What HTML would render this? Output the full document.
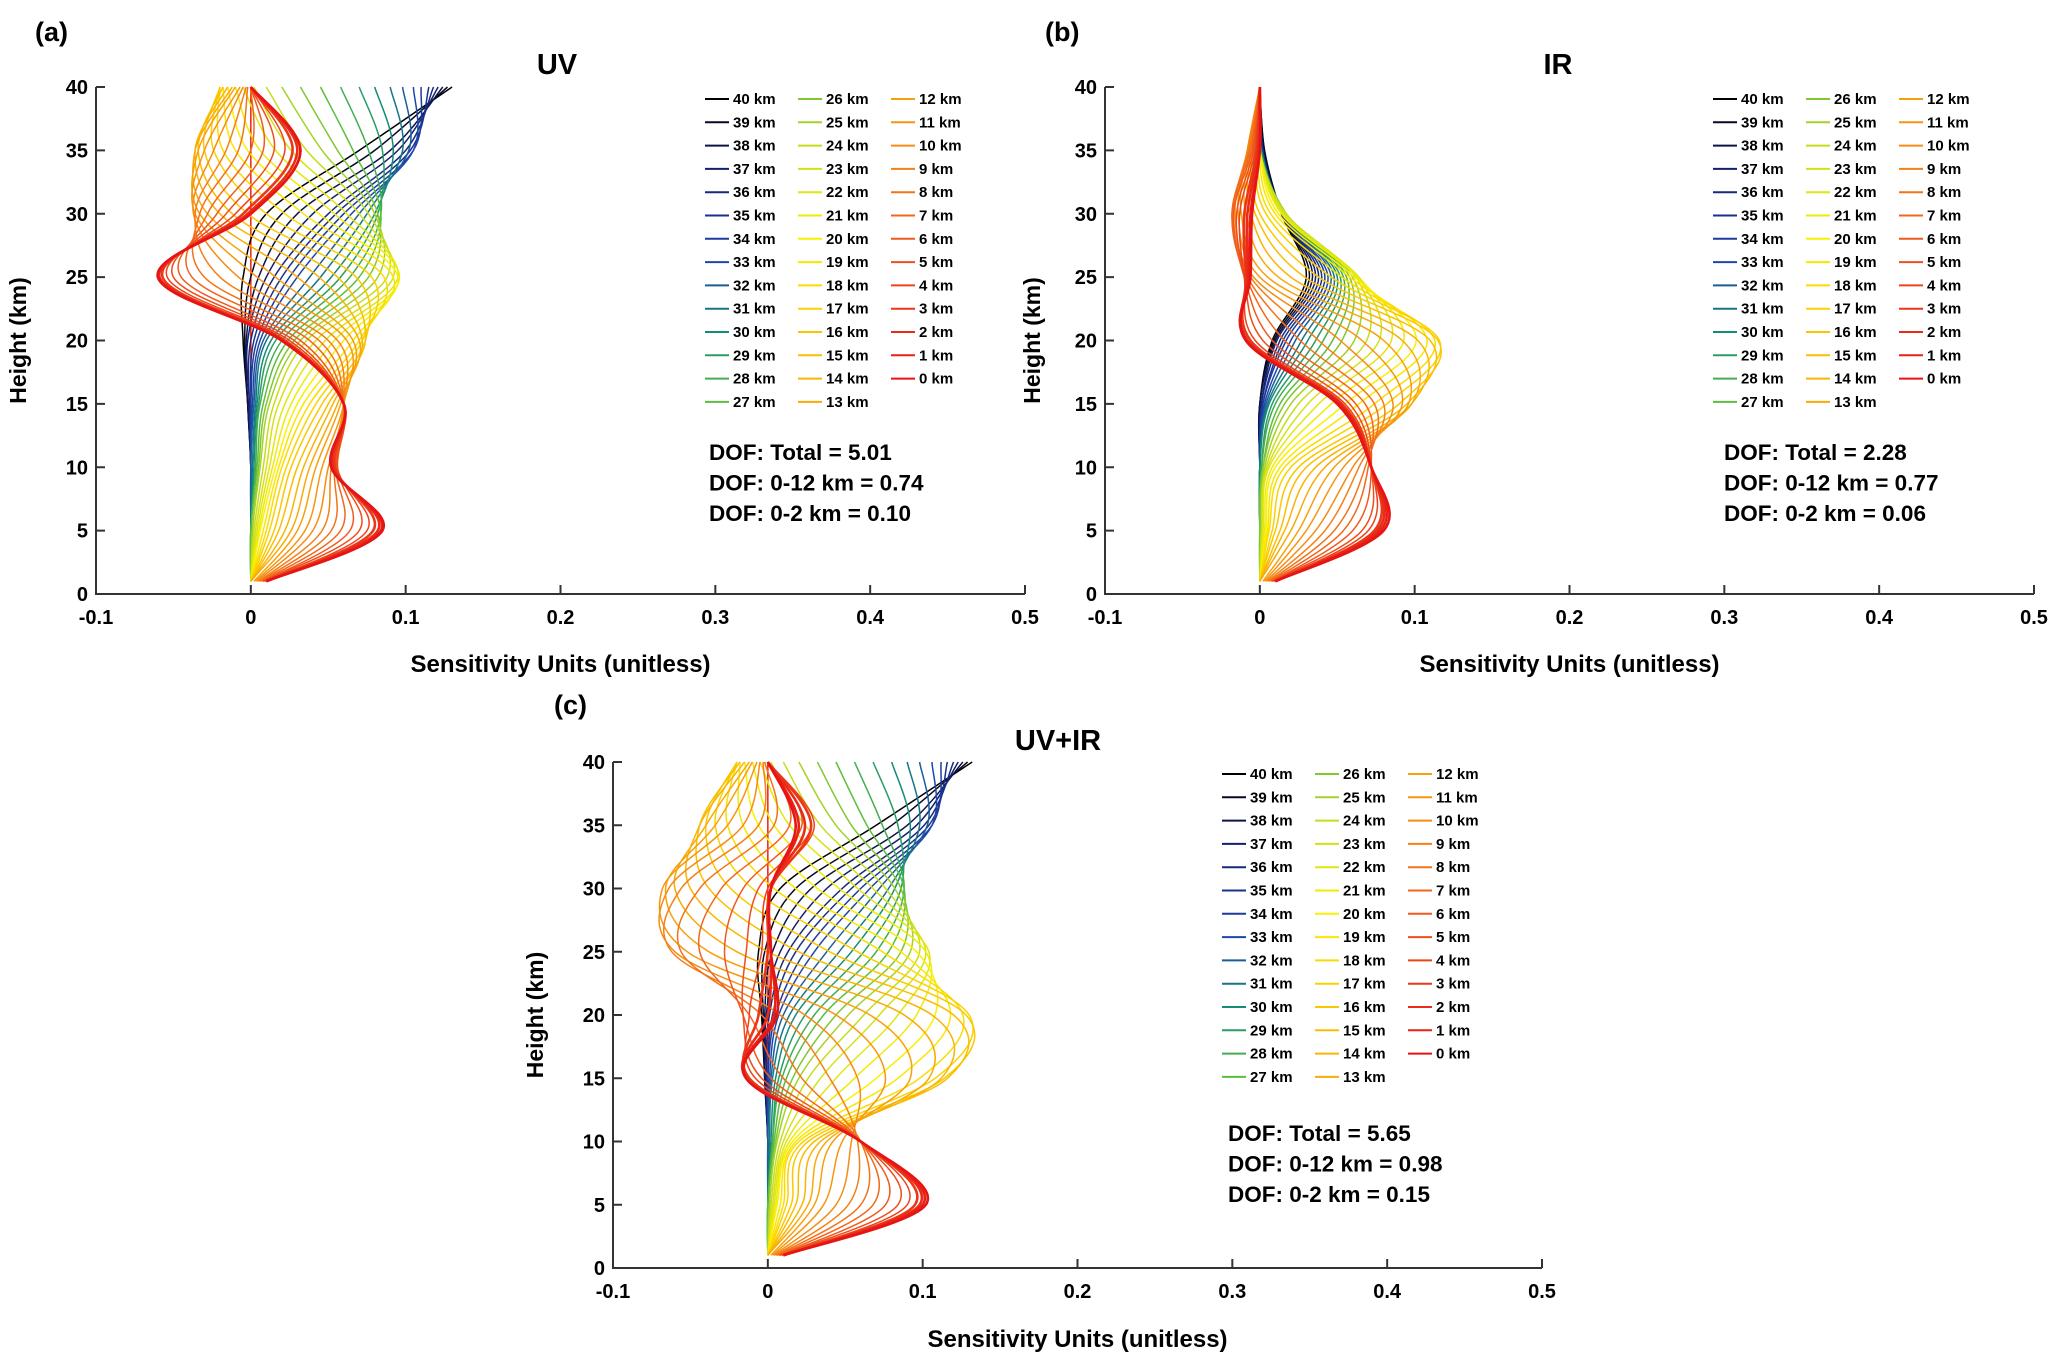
<!DOCTYPE html>
<html><head><meta charset="utf-8">
<style>
body{margin:0;background:#fff;}
svg{display:block;font-family:"Liberation Sans",Arial,sans-serif;font-weight:bold;}
</style></head>
<body>
<svg id="fig" width="2067" height="1372" viewBox="0 0 2067 1372" xmlns="http://www.w3.org/2000/svg"></svg>
<script>
// Shared data
const heights = [1,5,10,15,20,25,30,35,40];
const levels = [40,39,38,37,36,35,34,33,32,31,30,29,28,27,26,25,24,23,22,21,20,19,18,17,16,15,14,13,12,11,10,9,8,7,6,5,4,3,2,1,0];
const xTicks = [-0.1,0,0.1,0.2,0.3,0.4,0.5];
const xTickLabels = ["-0.1","0","0.1","0.2","0.3","0.4","0.5"];
const yTicks = [0,5,10,15,20,25,30,35,40];

// Panel (a) UV kernels (thousandths) per level, at heights above
const uvKernels = [
[0,0,0,-2,-5,-5,10,70,130],[0,0,0,-2,-4,0,20,80,127],[0,0,0,-2,-3,5,30,90,124],[0,0,0,-1,-2,10,40,95,121],
[0,0,0,-1,0,15,50,100,118],[0,0,0,0,2,20,55,103,115],[0,0,0,0,4,25,60,105,110],[0,0,0,1,6,30,65,105,105],
[0,0,0,2,8,38,70,102,98],[0,0,1,3,10,45,75,98,90],[0,0,2,4,13,52,80,92,80],[0,0,3,5,16,58,82,85,70],
[0,0,3,6,20,64,84,76,58],[0,0,4,8,24,70,84,66,45],[0,1,5,10,28,76,82,56,32],[0,1,6,12,32,82,80,46,20],
[0,2,8,15,36,88,76,36,10],[0,3,10,18,42,92,70,26,2],[0,4,12,22,48,95,62,16,-5],[0,5,14,26,54,96,54,6,-10],
[0,6,16,30,60,95,44,-2,-15],[0,8,18,34,66,92,34,-10,-18],[0,10,20,38,70,86,22,-18,-20],[0,12,23,42,72,78,10,-24,-20],
[0,15,26,46,74,68,-2,-30,-20],[0,18,30,50,74,56,-12,-34,-18],[0,22,34,53,72,44,-20,-36,-15],[0,26,38,56,70,30,-28,-36,-12],
[2,30,42,58,66,16,-33,-34,-10],[3,35,46,60,62,4,-36,-30,-7],[4,40,50,60,56,-8,-37,-24,-5],[5,46,52,60,50,-20,-36,-16,-3],
[6,52,54,60,44,-30,-33,-8,-2],[7,58,55,60,38,-38,-28,0,0],[8,64,56,60,32,-45,-22,8,0],[8,70,56,60,28,-50,-16,15,0],
[9,75,55,60,25,-54,-10,22,0],[10,79,54,60,22,-57,-5,27,0],[10,82,53,60,20,-59,-2,30,0],[10,84,52,60,20,-60,0,32,0],
[10,85,52,60,20,-60,0,32,0]];
// Panel (b) IR kernels
const irKernels = [
[0,0,0,0,8,30,14,3,0],[0,0,0,0,9,32,14,3,0],[0,0,0,0,10,34,14,2,0],[0,0,0,1,11,36,14,2,0],
[0,0,0,1,13,38,14,2,0],[0,0,0,2,15,40,14,2,0],[0,0,0,2,17,42,14,1,0],[0,0,0,3,20,44,14,1,0],
[0,0,0,4,23,46,15,1,0],[0,0,0,5,27,48,15,1,0],[0,0,0,6,31,50,16,1,0],[0,0,1,8,36,52,16,1,0],
[0,0,1,10,41,54,17,0,0],[0,0,2,13,47,56,17,0,0],[0,0,2,16,53,58,17,0,0],[0,1,3,20,61,60,17,0,0],
[0,1,4,25,69,62,17,0,0],[0,2,5,31,77,63,16,0,0],[0,2,6,38,85,64,15,0,0],[0,3,8,46,93,63,14,0,0],
[0,4,10,55,101,61,12,0,0],[0,5,13,64,108,58,10,-1,0],[0,6,16,74,113,53,7,-2,0],[0,8,20,82,116,46,4,-3,0],
[0,10,25,90,115,38,0,-4,0],[0,13,30,95,110,29,-3,-5,0],[0,16,36,98,102,20,-6,-6,0],[0,20,42,98,92,12,-9,-7,0],
[2,25,48,96,80,5,-12,-8,0],[3,30,54,92,66,0,-14,-8,0],[4,36,60,86,52,-4,-16,-8,0],[5,42,64,80,38,-6,-17,-8,0],
[6,48,68,74,26,-8,-18,-7,0],[7,54,70,68,16,-9,-18,-6,0],[8,60,72,62,8,-10,-17,-5,0],[8,66,72,58,2,-10,-15,-4,0],
[9,70,72,55,-3,-10,-13,-3,0],[10,74,72,53,-6,-9,-10,-2,0],[10,76,72,52,-8,-8,-8,-1,0],[10,78,72,51,-9,-7,-6,0,0],
[10,80,72,50,-9,-6,-5,0,0]];
// Panel (c) UV+IR kernels
const uvirKernels = [
[0,0,0,-2,-4,-6,8,70,132],[0,0,0,-2,-3,-2,18,80,129],[0,0,0,-2,-2,3,28,90,126],[0,0,0,-1,-1,8,38,96,123],
[0,0,0,-1,1,13,48,101,120],[0,0,0,0,3,18,54,104,116],[0,0,0,0,5,24,60,106,112],[0,0,0,1,7,30,66,106,106],
[0,0,0,2,10,38,72,103,98],[0,0,1,3,14,46,78,98,90],[0,0,2,5,18,54,82,92,80],[0,0,3,7,24,62,86,84,68],
[0,0,3,9,30,70,88,74,56],[0,0,4,12,36,78,88,64,44],[0,1,5,16,44,86,86,54,32],[0,1,6,20,52,92,82,44,20],
[0,2,8,26,62,98,76,34,10],[0,3,10,34,72,102,68,24,2],[0,4,12,44,84,104,58,14,-5],[0,5,14,56,96,102,46,4,-10],
[0,6,16,70,108,96,32,-6,-15],[0,8,18,84,118,86,18,-16,-18],[0,10,20,98,126,74,4,-26,-20],[0,12,23,108,130,58,-10,-34,-20],
[0,15,26,114,128,40,-24,-40,-20],[0,18,30,116,120,20,-38,-44,-18],[0,22,34,112,106,0,-50,-44,-15],[0,26,38,104,88,-20,-60,-40,-12],
[2,30,42,92,66,-38,-66,-34,-10],[3,36,48,76,44,-52,-68,-26,-7],[4,44,54,58,24,-60,-64,-16,-5],[5,52,58,40,8,-62,-56,-6,-3],
[6,60,60,22,-4,-56,-44,4,-2],[7,68,60,10,-12,-44,-30,14,0],[8,76,60,2,-16,-28,-16,22,0],[8,84,60,-4,-16,-14,-6,28,0],
[9,90,60,-8,-12,-4,0,30,0],[10,95,60,-12,-6,0,2,28,0],[10,98,60,-14,0,2,2,24,0],[10,100,60,-14,4,2,2,20,0],
[10,102,60,-14,6,2,2,18,0]];
const panelNames = ["uv","ir","uv-ir"];
const dofTexts = [
 ["DOF: Total =  5.01","DOF: 0-12 km = 0.74","DOF: 0-2 km = 0.10"],
 ["DOF: Total = 2.28","DOF: 0-12 km =  0.77","DOF: 0-2 km = 0.06"],
 ["DOF: Total = 5.65","DOF: 0-12 km = 0.98","DOF: 0-2 km = 0.15"]];
const titles = ["UV","IR","UV+IR"];
const tags = ["(a)","(b)","(c)"];

const NS="http://www.w3.org/2000/svg";
const svg=document.getElementById('fig');
function mk(tag,attrs,parent,text){const e=document.createElementNS(NS,tag);for(const k in attrs)e.setAttribute(k,attrs[k]);if(text!==undefined)e.textContent=text;(parent||svg).appendChild(e);return e;}

// colormap (style)
const stops=[[40,[0,0,0]],[37,[20,30,110]],[33,[30,70,170]],[30,[20,140,120]],[27,[90,190,60]],[24,[200,220,30]],[20,[250,240,0]],[15,[250,190,0]],[10,[245,140,20]],[6,[240,90,30]],[0,[230,20,20]]];
function colorFor(L){for(let i=0;i<stops.length-1;i++){const a=stops[i],b=stops[i+1];if(L<=a[0]&&L>=b[0]){const t=(a[0]-L)/(a[0]-b[0]);const c=a[1].map((v,j)=>Math.round(v+(b[1][j]-v)*t));return `rgb(${c})`;}}return 'rgb(230,20,20)';}

function smoothPath(pts){let d=`M${pts[0][0].toFixed(1)},${pts[0][1].toFixed(1)}`;for(let i=0;i<pts.length-1;i++){const p0=pts[Math.max(0,i-1)],p1=pts[i],p2=pts[i+1],p3=pts[Math.min(pts.length-1,i+2)];const c1=[p1[0]+(p2[0]-p0[0])/6,p1[1]+(p2[1]-p0[1])/6],c2=[p2[0]-(p3[0]-p1[0])/6,p2[1]-(p3[1]-p1[1])/6];d+=`C${c1[0].toFixed(1)},${c1[1].toFixed(1)} ${c2[0].toFixed(1)},${c2[1].toFixed(1)} ${p2[0].toFixed(1)},${p2[1].toFixed(1)}`;}return d;}

function panel(idx,kern,x0,x1,yTop,yBot,tagPos,titlePos,legX,legY,dofX,dofY,ylabX,xlabY){
  const g=mk('g',{});
  
  
  const sx=v=>x0+(v-(-0.1))/0.6*(x1-x0);
  const sy=h=>yBot-(h/40)*(yBot-yTop);
  const t=mk('text',{x:tagPos[0],y:tagPos[1],'font-size':27},g,tags[idx]);
  
  const ti=mk('text',{x:titlePos[0],y:titlePos[1],'font-size':29,'text-anchor':'middle'},g,titles[idx]);
  
  const ax=mk('path',{d:`M${x0},${yTop}V${yBot}H${x1}`,stroke:'#333',fill:'none','stroke-width':2},g);
  
  xTicks.forEach((v,i)=>{const x=sx(v);mk('line',{x1:x,x2:x,y1:yBot,y2:yBot-9,stroke:'#333','stroke-width':2},g);
    const tl=mk('text',{x:x,y:yBot+30,'font-size':20,'text-anchor':'middle'},g,xTickLabels[i]);
    });
  yTicks.forEach(v=>{const y=sy(v);mk('line',{x1:x0,x2:x0+9,y1:y,y2:y,stroke:'#333','stroke-width':2},g);
    const tl=mk('text',{x:x0-8,y:y+7,'font-size':20,'text-anchor':'end'},g,String(v));
    });
  const xl=mk('text',{x:(x0+x1)/2,y:xlabY,'font-size':24,'text-anchor':'middle'},g,'Sensitivity Units (unitless)');
  
  const yc=(yTop+yBot)/2;
  const yl=mk('text',{x:ylabX,y:yc,'font-size':23,'text-anchor':'middle',transform:`rotate(-90 ${ylabX} ${yc})`},g,'Height (km)');
  
  const cg=mk('g',{fill:'none'},g);
  
  if(idx!==1){const vl=mk('line',{x1:sx(0),x2:sx(0),y1:sy(40),y2:sy(1),stroke:'#e21',"stroke-width":1.5},cg);
    }
  levels.forEach((L,i)=>{const pts=heights.map((h,j)=>[sx(kern[i][j]/1000),sy(h)]);
    const p=mk('path',{d:smoothPath(pts),stroke:colorFor(L),'stroke-width':L<=3?2.6:1.5},cg);
    });
  const lg=mk('g',{},g);
  levels.forEach((L,i)=>{const col=Math.floor(i/14),row=i%14;const lx=legX+col*93,ly=legY+row*23.3;
    const e=mk('g',{},lg);
    mk('line',{x1:lx,x2:lx+24,y1:ly,y2:ly,stroke:colorFor(L),'stroke-width':2},e);
    mk('text',{x:lx+28,y:ly+5,'font-size':15},e,L+' km');});
  dofTexts[idx].forEach((s,k)=>{const d=mk('text',{x:dofX,y:dofY+k*30.5,'font-size':22.5},g,s);
    });
}
panel(0,uvKernels,96,1025,87,594,[35,41],[557,74],705,99,709,460,26,672);
panel(1,irKernels,1105,2034,87,594,[1045,41],[1558,74],1713,99,1724,460,1040,672);
panel(2,uvirKernels,613,1542,762,1268,[554,714],[1058,750],1222,774,1228,1141,543,1347);
</script>
</body></html>
